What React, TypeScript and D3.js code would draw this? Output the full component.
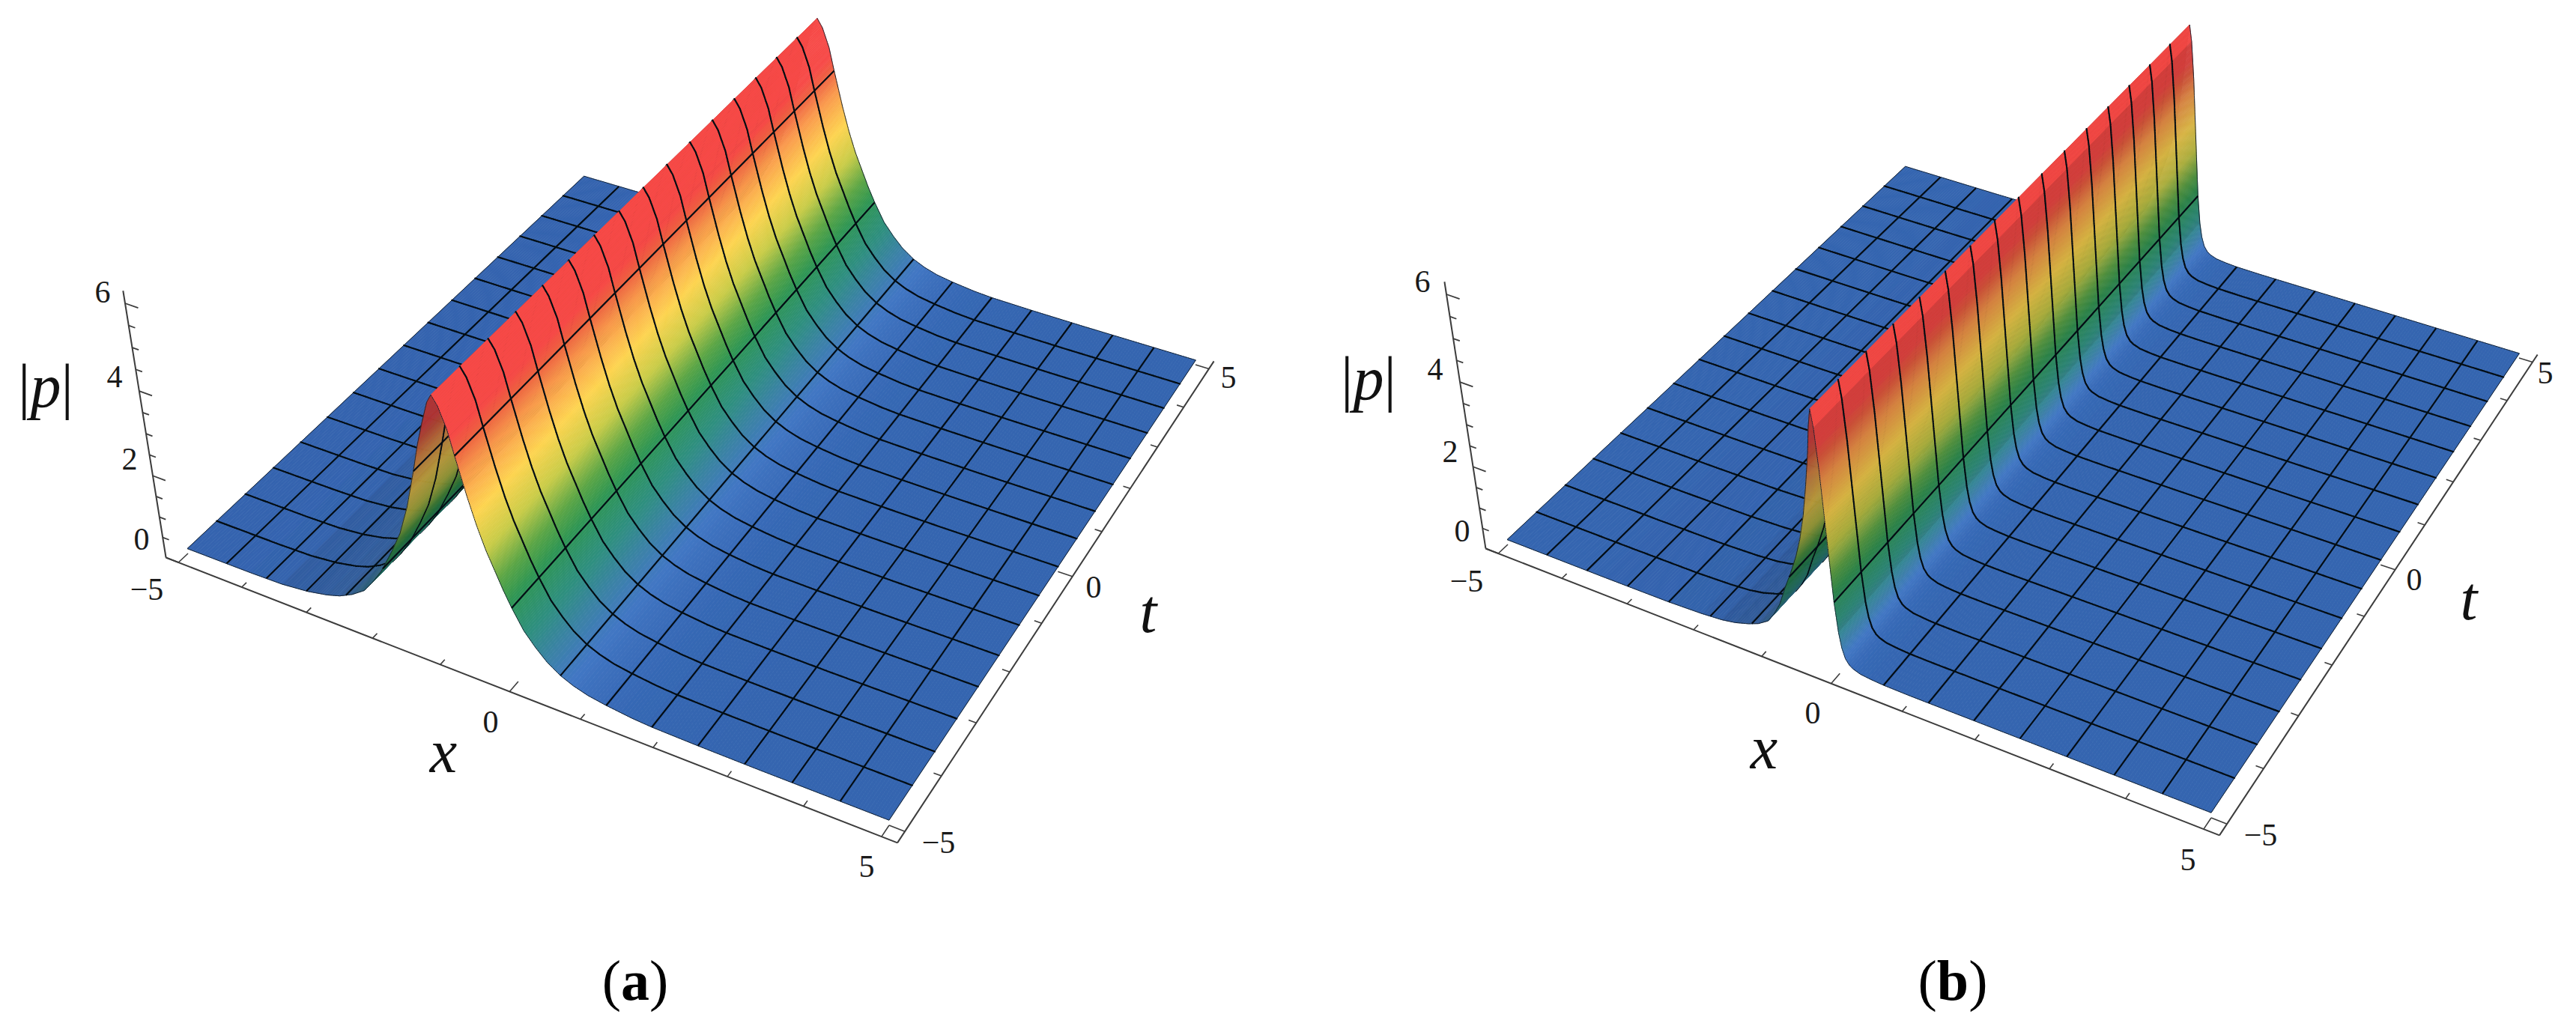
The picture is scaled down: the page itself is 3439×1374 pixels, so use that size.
import * as d3 from 'd3';

// cross sections |p|(x), the soliton does not change along t
const xA = [-5, -4, -3.5, -3.1, -2.8, -2.6, -2.4, -2.2, -2.05, -1.9, -1.7, -1.55, -1.4, -1.25, -1.15, -1.05, -0.95, -0.88, -0.8, -0.7, -0.625, -0.5, -0.4, -0.3, -0.2, -0.1, 0, 0.15, 0.3, 0.45, 0.625, 0.8, 1, 1.25, 1.6, 1.875, 2.5, 3.3, 5];
const zA = [0.12, 0.13, 0.15, 0.22, 0.32, 0.42, 0.58, 0.8, 1.1, 1.45, 2.05, 2.55, 3.25, 4.15, 4.8, 5.35, 5.85, 6.05, 5.85, 5.4, 4.85, 4.0, 3.4, 2.9, 2.5, 2.1, 1.75, 1.3, 1.0, 0.75, 0.55, 0.42, 0.32, 0.25, 0.18, 0.15, 0.13, 0.12, 0.12];
const xB = [-5, -3.5, -2.5, -2, -1.7, -1.5, -1.3, -1.15, -1, -0.9, -0.8, -0.7, -0.6, -0.5, -0.42, -0.34, -0.27, -0.2, -0.16, -0.12, -0.09, -0.06, -0.03, 0, 0.03, 0.06, 0.1, 0.15, 0.2, 0.3, 0.45, 0.625, 1, 5];
const zB = [0.12, 0.12, 0.13, 0.16, 0.2, 0.26, 0.36, 0.46, 0.62, 0.85, 1.15, 1.6, 2.0, 2.45, 2.9, 3.5, 4.2, 5.0, 5.6, 6.0, 5.6, 4.7, 3.2, 1.7, 1.0, 0.65, 0.42, 0.3, 0.24, 0.18, 0.15, 0.13, 0.12, 0.12];

const meshX = d3.range(1, 16).map(i => -5 + (10 * i) / 16);
const meshT = d3.range(1, 16).map(i => -5 + (10 * i) / 16);
const xyTicks = d3.range(-5, 6);
const zTicks = d3.range(0, 6.5, 0.5);

const colorStops = [0.12, 0.2, 0.45, 0.7, 1.2, 1.86, 2.3, 2.9, 3.6, 4.4, 4.9, 5.2];
const colorValues = ['#3465b0', '#3668b5', '#4277c4', '#3d80ac', '#2f8f80', '#2f9653', '#5ca645', '#c9cc48', '#fdd450', '#fa9a4d', '#ee5f42', '#f74a47'];
const slopeStops = [-30, -10, -0.5, 0, 0.25, 1, 60];
const shadeValues = [0.85, 1, 1, 1, 0.86, 0.72, 0.74];

const color = d3.scaleLinear<string>().domain(colorStops).range(colorValues).clamp(true);
const shade = d3.scaleLinear().domain(slopeStops).range(shadeValues).clamp(true);

type Pt = [number, number];

// floor homography plus a z column, camera fitted to the box corners
function makeProjection(floor: Pt[], zTop: Pt, zr: number) {
  const sx = d3.scaleLinear().domain([-5, 5]).range([0, 1]);
  const sy = d3.scaleLinear().domain([-5, 5]).range([0, 1]);
  const [p0, p1, p2, p3] = floor;
  const dx1 = p1[0] - p2[0], dx2 = p3[0] - p2[0], ax = p0[0] - p1[0] + p2[0] - p3[0];
  const dy1 = p1[1] - p2[1], dy2 = p3[1] - p2[1], ay = p0[1] - p1[1] + p2[1] - p3[1];
  const den = dx1 * dy2 - dx2 * dy1;
  const g = (ax * dy2 - dx2 * ay) / den;
  const h = (dx1 * ay - ax * dy1) / den;
  const a = p1[0] - p0[0] + g * p1[0], b = p3[0] - p0[0] + h * p3[0], c = p0[0];
  const d = p1[1] - p0[1] + g * p1[1], e = p3[1] - p0[1] + h * p3[1], f = p0[1];
  const hom = (x: number, t: number) => {
    const s = sx(x), v = sy(t);
    return [a * s + b * v + c, d * s + e * v + f, g * s + h * v + 1];
  };
  const [u0, v0, w0] = hom(-5.2, -5.2);
  const R = zr * w0;
  const P = (zTop[0] * (w0 + 6 * R) - u0) / 6;
  const Q = (zTop[1] * (w0 + 6 * R) - v0) / 6;
  return (x: number, t: number, z: number): Pt => {
    const [u, v, w] = hom(x, t);
    const k = w + R * z;
    return [(u + P * z) / k, (v + Q * z) / k];
  };
}

const line = d3.line();

// split each measured segment so the colour bands stay smooth on steep faces
function refine(xs: number[], zs: number[]) {
  const out: number[] = [...meshX, 5];
  d3.pairs(d3.zip(xs, zs)).forEach(([[x0, z0], [x1, z1]]) => {
    const n = Math.ceil(Math.max((x1 - x0) / 0.04, Math.abs(z1 - z0) / 0.04));
    for (let i = 0; i < n; i++) out.push(x0 + ((x1 - x0) * i) / n);
  });
  return Array.from(new Set(out)).sort(d3.ascending);
}

function Surface({ xs, zs, project, id }: any) {
  const zOf = d3.scaleLinear().domain(xs).range(zs);
  const fine = refine(xs, zs);
  const strips = d3.pairs(fine).map(([x0, x1]) => {
    const z0 = zOf(x0), z1 = zOf(x1);
    const slope = (z1 - z0) / (x1 - x0);
    const base = d3.rgb(color((z0 + z1) / 2));
    const k = shade(slope);
    const fill = d3.rgb(base.r * k, base.g * k, base.b * k).formatHex();
    const poly = line([project(x0, -5, z0), project(x1, -5, z1), project(x1, 5, z1), project(x0, 5, z0)]) + 'Z';
    const grid = meshT.map(t => line([project(x0, t, z0), project(x1, t, z1)])).join('');
    const edge = [-5, 5].map(t => line([project(x0, t, z0), project(x1, t, z1)])).join('');
    // x mesh lines go on a little later, or the next strips would paint over them
    const along = meshX
      .filter(m => m + 0.07 >= x0 && m + 0.07 < x1)
      .map(m => line([project(m, -5, zOf(m)), project(m, 5, zOf(m))]))
      .join('');
    return { x0, fill, poly, grid, edge, along };
  });
  return (
    <g filter={`url(#${id})`}>
      {strips.map(s => (
        <g key={s.x0}>
          <path d={s.poly} fill={s.fill} stroke={s.fill} strokeWidth={0.7} />
          <path d={s.grid} fill="none" stroke="#060c12" strokeWidth={2.2} strokeLinecap="round" />
          <path d={s.edge} fill="none" stroke="#14202e" strokeWidth={1} />
          {s.along && <path d={s.along} fill="none" stroke="#060c12" strokeWidth={2.2} />}
        </g>
      ))}
      <path d={line([project(-5, -5, zOf(-5)), project(-5, 5, zOf(-5))]) as string} fill="none" stroke="#14202e" strokeWidth={1} />
      <path d={line([project(5, -5, zOf(5)), project(5, 5, zOf(5))]) as string} fill="none" stroke="#14202e" strokeWidth={1} />
    </g>
  );
}

function Axes({ project }: any) {
  const lo = -5.2, hi = 5.2;
  const axisPaths = [
    line([project(lo, lo, 0), project(lo, lo, 6.28)]),
    line([project(lo, lo, 0), project(hi, lo, 0)]),
    line([project(hi, lo, 0), project(hi, hi, 0)]),
  ];
  const tickLen = (v: number, major: number) => (v % major === 0 ? 0.2 : 0.1);
  return (
    <g stroke="#3c3c3c" fill="none" filter="url(#soft)">
      {axisPaths.map((d, i) => <path key={i} d={d as string} strokeWidth={2} />)}
      {xyTicks.map(v => (
        <path key={'x' + v} strokeWidth={1.6} d={line([project(v, lo, 0), project(v, lo + tickLen(v, 5), 0)]) as string} />
      ))}
      {xyTicks.map(v => (
        <path key={'t' + v} strokeWidth={1.6} d={line([project(hi, v, 0), project(hi - tickLen(v, 5), v, 0)]) as string} />
      ))}
      {zTicks.map(v => (
        <path key={'z' + v} strokeWidth={1.8} d={line([project(lo, lo, v), project(lo + tickLen(v, 2), lo, v)]) as string} />
      ))}
    </g>
  );
}

const tickFont = { fontFamily: '"Liberation Serif"', fontSize: 42, fill: '#1a1a1a', textAnchor: 'middle', dominantBaseline: 'central' } as const;
const axisFont = { fontFamily: '"Liberation Serif"', fontSize: 82, fontStyle: 'italic', fill: '#111', textAnchor: 'middle', dominantBaseline: 'central' } as const;

function Panel({ xs, zs, floor, zTop, labels, id }: any) {
  const project = makeProjection(floor, zTop, -0.0085);
  return (
    <g>
      <Axes project={project} />
      <Surface xs={xs} zs={zs} project={project} id={id} />
      {labels.ticks.map(([s, px, py]: [string, number, number]) => (
        <text key={s + px} x={px} y={py} {...tickFont}>{s}</text>
      ))}
      <text x={labels.x[0]} y={labels.x[1]} {...axisFont}>x</text>
      <text x={labels.t[0]} y={labels.t[1]} {...axisFont}>t</text>
      <text x={labels.p[0]} y={labels.p[1]} {...axisFont}>
        <tspan fontStyle="normal">|</tspan>p<tspan fontStyle="normal">|</tspan>
      </text>
    </g>
  );
}

const floorA: Pt[] = [[251, 739], [1187, 1102], [1596, 487], [780, 241]];
const floorB: Pt[] = [[2013, 727], [2952, 1092], [3363, 478], [2544, 228]];

const labelsA = {
  ticks: [['6', 137, 390], ['4', 153, 503], ['2', 173, 613], ['0', 189, 720], ['−5', 196, 787], ['0', 655, 964], ['5', 1157, 1157], ['−5', 1253, 1125], ['0', 1460, 784], ['5', 1640, 504]],
  x: [592, 1003], t: [1533, 816], p: [61, 515],
};
const labelsB = {
  ticks: [['6', 1899, 376], ['4', 1916, 493], ['2', 1936, 603], ['0', 1952, 709], ['−5', 1958, 776], ['0', 2420, 952], ['5', 2921, 1148], ['−5', 3018, 1115], ['0', 3223, 774], ['5', 3398, 498]],
  x: [2355, 998], t: [3296, 799], p: [1827, 505],
};

export default function App() {
  return (
    <svg width={3439} height={1374} style={{ position: 'absolute', left: 0, top: 0, background: '#fff' }}>
      <defs>
        <filter id="soft" x="-5%" y="-5%" width="110%" height="110%"><feGaussianBlur stdDeviation={0.5} /></filter>
        <filter id="softA" filterUnits="userSpaceOnUse" x="0" y="0" width="3439" height="1374"><feGaussianBlur stdDeviation={0.6} /></filter>
        <filter id="softB" filterUnits="userSpaceOnUse" x="0" y="0" width="3439" height="1374"><feGaussianBlur stdDeviation={0.6} /></filter>
      </defs>
      <Panel xs={xA} zs={zA} floor={floorA} zTop={[167, 405]} labels={labelsA} id="softA" />
      <Panel xs={xB} zs={zB} floor={floorB} zTop={[1931, 393]} labels={labelsB} id="softB" />
      <text x={848} y={1335} textAnchor="middle" fontFamily='"Liberation Serif"' fontSize={76} fill="#000">
        (<tspan fontWeight="bold">a</tspan>)
      </text>
      <text x={2607} y={1335} textAnchor="middle" fontFamily='"Liberation Serif"' fontSize={76} fill="#000">
        (<tspan fontWeight="bold">b</tspan>)
      </text>
    </svg>
  );
}
